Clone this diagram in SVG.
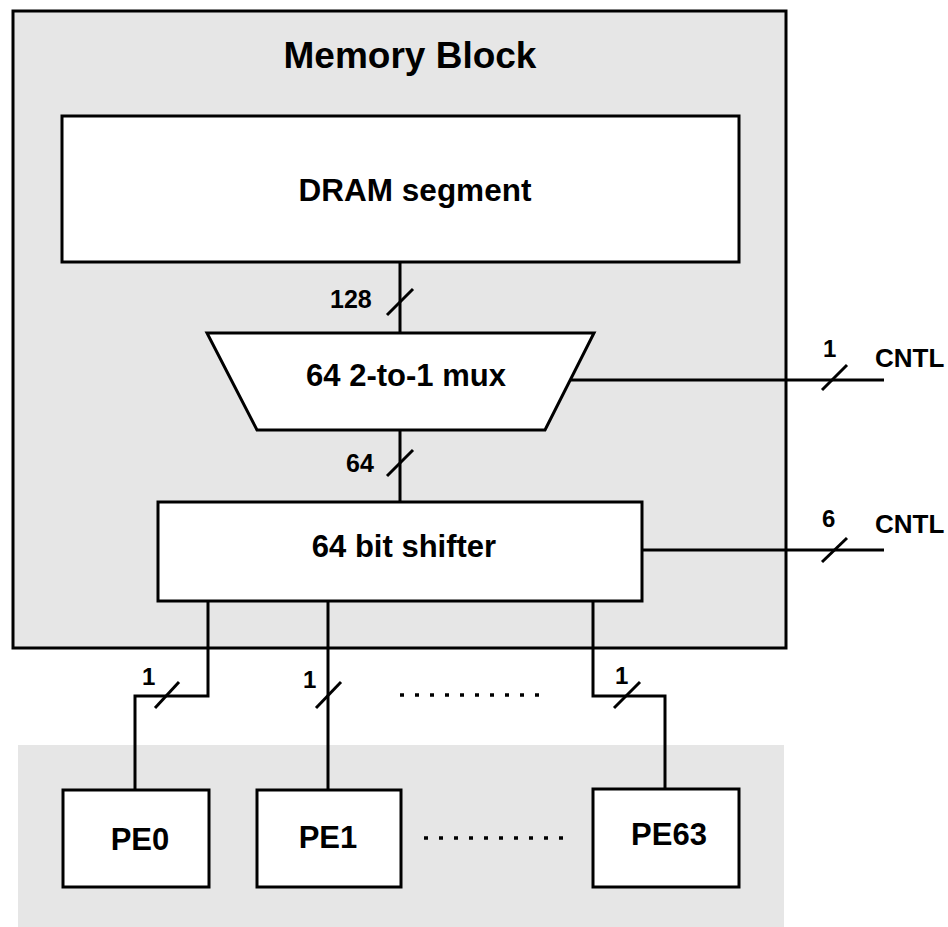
<svg xmlns="http://www.w3.org/2000/svg" width="948" height="927" viewBox="0 0 948 927">
  <style>
    .box { fill: #ffffff; stroke: #000000; stroke-width: 3; }
    .wire { fill: none; stroke: #000000; stroke-width: 3; stroke-linejoin: miter; }
    .tick { stroke: #000000; stroke-width: 3; }
    .dots { stroke: #000000; stroke-width: 3.5; stroke-dasharray: 4 11; }
    text { font-family: "Liberation Sans", Arial, sans-serif; font-weight: bold; fill: #000000; }
    .lbl { font-size: 24px; }
    .cntl { font-size: 26px; }
    .mid { text-anchor: middle; }
  </style>
  <rect width="948" height="927" fill="#ffffff"/>

  <!-- shaded area behind the processing elements -->
  <rect x="18" y="745" width="766" height="182" fill="#e6e6e6"/>

  <g id="memory-block">
    <rect x="13" y="11" width="773" height="637" fill="#e6e6e6" stroke="#000" stroke-width="3"/>
    <text x="410" y="68" class="mid" font-size="37">Memory Block</text>
  </g>

  <g id="dram">
    <rect class="box" x="62" y="116" width="677" height="146"/>
    <text x="415" y="201" class="mid" font-size="31.5">DRAM segment</text>
  </g>

  <g id="mux">
    <polygon class="box" points="207,333 594,333 545,430 257,430"/>
    <text x="406" y="386" class="mid" font-size="31">64 2-to-1 mux</text>
  </g>

  <g id="shifter">
    <rect class="box" x="158" y="502" width="484" height="99"/>
    <text x="404" y="557" class="mid" font-size="31">64 bit shifter</text>
  </g>

  <g id="pe0">
    <rect class="box" x="63" y="790" width="146" height="97"/>
    <text x="140" y="850" class="mid" font-size="31">PE0</text>
  </g>
  <g id="pe1">
    <rect class="box" x="257" y="790" width="144" height="97"/>
    <text x="328" y="848" class="mid" font-size="31">PE1</text>
  </g>
  <g id="pe63">
    <rect class="box" x="593" y="789" width="146" height="98"/>
    <text x="669" y="845" class="mid" font-size="31">PE63</text>
  </g>

  <g id="connectors">
    <!-- DRAM to mux, 128 bits -->
    <line class="wire" x1="400" y1="262" x2="400" y2="333"/>
    <line class="tick" x1="387" y1="315" x2="413" y2="289"/>
    <text x="330" y="308" font-size="25">128</text>

    <!-- mux to shifter, 64 bits -->
    <line class="wire" x1="400" y1="430" x2="400" y2="502"/>
    <line class="tick" x1="387" y1="476" x2="413" y2="450"/>
    <text x="346" y="472" font-size="25">64</text>

    <!-- mux control -->
    <line class="wire" x1="570" y1="380" x2="884" y2="380"/>
    <line class="tick" x1="822" y1="390" x2="847" y2="365"/>
    <text x="823" y="357" class="lbl">1</text>
    <text x="875" y="367" class="cntl">CNTL</text>

    <!-- shifter control -->
    <line class="wire" x1="642" y1="550" x2="884" y2="550"/>
    <line class="tick" x1="822" y1="562" x2="847" y2="538"/>
    <text x="822" y="527" class="lbl">6</text>
    <text x="875" y="533" class="cntl">CNTL</text>

    <!-- shifter outputs to PEs -->
    <polyline class="wire" points="208,601 208,696 135,696 135,790"/>
    <line class="tick" x1="155" y1="708" x2="179" y2="682"/>
    <text x="142" y="685" class="lbl">1</text>

    <line class="wire" x1="328" y1="601" x2="328" y2="790"/>
    <line class="tick" x1="316" y1="708" x2="341" y2="682"/>
    <text x="303" y="688" class="lbl">1</text>

    <polyline class="wire" points="593,601 593,696 665,696 665,789"/>
    <line class="tick" x1="614" y1="708" x2="640" y2="682"/>
    <text x="615" y="684" class="lbl">1</text>

    <!-- ellipsis between PE1 and PE63 -->
    <line class="dots" x1="400" y1="695" x2="548" y2="695"/>
    <line class="dots" x1="424" y1="838" x2="572" y2="838"/>
  </g>
</svg>
